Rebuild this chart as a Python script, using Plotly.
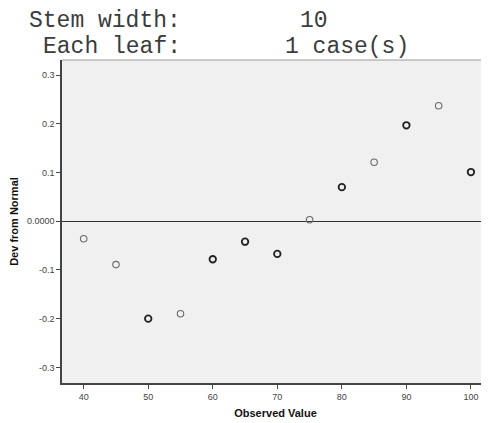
import plotly.graph_objects as go

# Data
observed = [40, 45, 50, 55, 60, 65, 70, 75, 80, 85, 90, 95, 100]
dev_from_normal = [-0.036, -0.089, -0.200, -0.190, -0.078, -0.042, -0.067,
                   0.003, 0.070, 0.121, 0.197, 0.237, 0.101]
multi_case = [False, False, True, False, True, True, True,
              False, True, False, True, False, True]

y_tickvals = [-0.3, -0.2, -0.1, 0.0, 0.1, 0.2, 0.3]
y_ticktext = ["-0.3", "-0.2", "-0.1", "0.0000", "0.1", "0.2", "0.3"]
x_tickvals = [40, 50, 60, 70, 80, 90, 100]

# page body has an 8px margin: the figure is sized to fit the visible window
OFF = 8
W, H = 489 - OFF, 423 - OFF
L, R, T, B = 62 - OFF, 0, 60 - OFF, 40

def px_x(p):
    return (p - OFF - L) / (W - L - R)

def px_y(p):
    return 1 - (p - OFF - T) / (H - T - B)

fig = go.Figure()

fig.add_trace(go.Scatter(
    x=observed, y=dev_from_normal, mode="markers",
    marker=dict(
        symbol="circle-open", size=6.5,
        color=["#222222" if m else "#6a6a6a" for m in multi_case],
        line=dict(width=[1.8 if m else 1.1 for m in multi_case],
                  color=["#222222" if m else "#6a6a6a" for m in multi_case]),
    ),
    hoverinfo="x+y", showlegend=False, cliponaxis=False,
))

fig.update_layout(
    width=W, height=H,
    margin=dict(l=L, r=R, t=T, b=B, pad=0, autoexpand=False),
    paper_bgcolor="white", plot_bgcolor="#f0f0f0",
    font=dict(family="Arial, Liberation Sans, sans-serif", color="#333333"),
    xaxis=dict(
        range=[36.64, 102.8], tickvals=x_tickvals,
        showgrid=False, zeroline=False,
        showline=True, linecolor="#444444", linewidth=1.5,
        ticks="outside", ticklen=4, tickcolor="#444444", tickwidth=1,
        tickfont=dict(size=9, color="#444444"),
        title=dict(text="<b>Observed Value</b>", font=dict(size=11, color="#111111"), standoff=9),
        automargin=False,
    ),
    yaxis=dict(
        range=[-0.332, 0.331], tickvals=y_tickvals, ticktext=y_ticktext,
        showgrid=False, zeroline=True, zerolinecolor="#333333", zerolinewidth=1.3,
        showline=True, linecolor="#444444", linewidth=1.5,
        ticks="outside", ticklen=4, tickcolor="#444444", tickwidth=1,
        tickfont=dict(size=9, color="#444444"),
        title=dict(text="<b>Dev from Normal</b>", font=dict(size=11, color="#111111"), standoff=7),
        automargin=False,
    ),
    shapes=[dict(type="line", xref="paper", yref="paper", x0=0, x1=1, y0=1, y1=1,
                 line=dict(color="#9a9a9a", width=1), layer="above")],
)

mono = dict(family="Liberation Mono, Courier New, monospace", size=23, color="#3c3c3c")
for txt, px, py in [("Stem width:", 28, 7), ("10", 299, 7),
                    ("Each leaf:", 42, 33), ("1 case(s)", 284, 33)]:
    fig.add_annotation(text=txt, xref="paper", yref="paper",
                       x=px_x(px), y=px_y(py), xanchor="left", yanchor="top",
                       showarrow=False, font=mono, borderpad=0)

fig.write_html("out.html")
